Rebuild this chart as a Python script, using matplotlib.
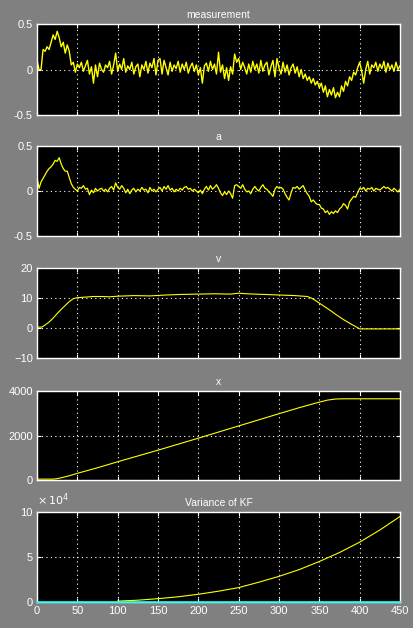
import numpy as np
import matplotlib
matplotlib.use('Agg')
import matplotlib.pyplot as plt

# 采样点 (0 ~ 450, 步长 2.5)
t = np.arange(0, 450.01, 2.5)

measurement = [
    0.10, 0.00, 0.00, 0.22, 0.20, 0.25, 0.22, 0.30, 0.38, 0.33,
    0.42, 0.35, 0.25, 0.30, 0.18, 0.27, 0.20, 0.05, 0.08, -0.03,
    0.06, 0.02, 0.08, -0.02, 0.04, 0.10, -0.05, 0.03, -0.15, 0.05,
    -0.08, 0.07, 0.00, -0.03, 0.05, 0.02, 0.09, -0.05, 0.05, 0.18,
    -0.02, 0.06, 0.00, 0.12, -0.03, 0.04, 0.00, 0.08, -0.05, 0.03,
    0.06, -0.08, 0.05, 0.00, 0.09, -0.04, 0.07, 0.02, 0.12, -0.06,
    0.10, 0.12, -0.05, 0.10, 0.02, -0.06, 0.08, -0.02, 0.05, 0.01,
    0.09, -0.03, 0.06, 0.00, 0.08, -0.04, 0.03, 0.07, -0.02, 0.05,
    -0.06, 0.02, -0.15, 0.04, 0.07, -0.02, 0.09, 0.00, 0.06, -0.05,
    0.19, -0.03, 0.05, -0.10, 0.02, -0.12, 0.03, -0.05, 0.17, 0.08,
    0.12, 0.00, 0.08, 0.02, -0.05, 0.06, -0.03, 0.09, 0.00, 0.06,
    -0.04, 0.10, -0.02, 0.05, 0.08, -0.06, 0.03, 0.10, -0.08, 0.12,
    0.02, -0.05, 0.08, -0.03, 0.05, -0.06, 0.02, 0.06, -0.04, 0.03,
    -0.08, 0.00, -0.10, -0.05, -0.12, -0.08, -0.15, -0.10, -0.17, -0.13,
    -0.20, -0.15, -0.25, -0.18, -0.30, -0.22, -0.28, -0.20, -0.31, -0.25,
    -0.30, -0.18, -0.24, -0.13, -0.18, -0.08, -0.12, -0.03, -0.06, 0.02,
    0.08, -0.02, -0.15, 0.00, 0.09, -0.05, 0.05, 0.02, 0.08, -0.02,
    0.06, 0.01, 0.09, -0.03, 0.07, 0.00, 0.05, -0.02, 0.08, 0.00,
    0.04,
]

# 加速度估计 a
accel = [
    0.15, 0.03, 0.10, 0.14, 0.18, 0.22, 0.25, 0.27, 0.30, 0.34,
    0.33, 0.37, 0.30, 0.25, 0.22, 0.22, 0.15, 0.08, 0.04, 0.02,
    0.00, 0.04, 0.03, 0.06, 0.02, 0.03, -0.04, 0.01, -0.02, 0.03,
    0.00, 0.02, 0.03, 0.00, 0.02, -0.01, 0.03, 0.05, 0.01, 0.09,
    0.04, 0.02, 0.06, 0.03, -0.02, 0.02, -0.03, 0.01, 0.03, -0.01,
    0.02, 0.00, 0.04, 0.01, 0.02, -0.02, 0.04, 0.00, 0.02, -0.01,
    0.02, 0.04, 0.00, 0.05, 0.02, 0.06, 0.01, 0.03, -0.01, 0.02,
    0.00, 0.03, 0.01, 0.04, 0.05, 0.02, 0.03, 0.00, 0.02, 0.00,
    -0.02, 0.01, -0.03, 0.02, 0.05, 0.01, 0.06, 0.02, 0.04, 0.07,
    0.03, -0.02, -0.05, -0.01, -0.04, 0.00, -0.03, -0.08, 0.06, 0.07,
    0.05, 0.03, 0.07, 0.02, -0.01, 0.00, -0.03, 0.02, 0.05, 0.02,
    0.00, 0.04, 0.07, 0.03, 0.02, -0.01, -0.03, -0.06, 0.02, 0.05,
    0.03, 0.04, 0.02, -0.03, -0.07, -0.10, -0.02, 0.04, 0.03, 0.05,
    0.02, 0.04, 0.06, 0.01, -0.03, -0.06, -0.12, -0.10, -0.13, -0.15,
    -0.15, -0.19, -0.20, -0.24, -0.22, -0.26, -0.23, -0.25, -0.22, -0.24,
    -0.20, -0.18, -0.14, -0.16, -0.20, -0.12, -0.09, -0.06, -0.07, -0.02,
    0.03, 0.02, 0.04, 0.00, 0.03, 0.02, 0.04, 0.00, 0.03, 0.02,
    0.01, 0.03, 0.05, 0.03, 0.04, 0.02, 0.00, 0.03, 0.01, -0.01,
    0.02,
]

# 速度 v
v_t = [0, 6, 10, 15, 20, 25, 30, 35, 40, 45, 50, 60, 70, 80, 90, 100,
       120, 140, 160, 180, 200, 220, 240, 250, 260, 280, 300, 320, 330,
       335, 340, 345, 350, 355, 360, 365, 370, 375, 380, 385, 390, 395,
       400, 420, 440, 450]
v = [0.3, 0.3, 1.0, 2.0, 3.3, 4.8, 6.2, 7.5, 8.8, 9.8, 10.1, 10.3, 10.5,
     10.5, 10.4, 10.6, 10.8, 10.7, 11.0, 11.2, 11.3, 11.4, 11.3, 11.6,
     11.4, 11.2, 11.0, 10.8, 10.6, 10.5, 10.0, 9.2, 8.3, 7.4, 6.5, 5.6,
     4.6, 3.7, 2.8, 2.0, 1.2, 0.5, -0.3, -0.3, -0.3, -0.3]

# 位置 x
pos_t = [0, 20, 25, 30, 40, 50, 75, 100, 150, 200, 250, 300, 325, 350,
         360, 370, 380, 450]
pos = [40, 40, 60, 100, 190, 300, 550, 820, 1340, 1880, 2430, 2980, 3250,
       3500, 3590, 3640, 3650, 3650]

# KF 方差 (单位 1e4)
var_t = [100, 125, 150, 175, 200, 225, 250, 275, 300, 325, 350, 375, 400,
         425, 450]
var = [0.1, 0.2, 0.37, 0.58, 0.86, 1.2, 1.6, 2.2, 2.85, 3.6, 4.5, 5.5,
       6.65, 8.0, 9.5]
var2_t = [0, 450]
var2 = [0, 0]

plt.rcParams['font.family'] = ['Liberation Sans', 'DejaVu Sans']

fig = plt.figure(figsize=(4.14, 6.28), dpi=100, facecolor='#808080')

left, width = 37 / 414, 363 / 414
boxes = [(24, 115), (146, 236), (268, 358), (391, 480), (512, 602)]
axes = []
for top, bot in boxes:
    ax = fig.add_axes([left, 1 - bot / 628, width, (bot - top) / 628])
    ax.set_facecolor('black')
    for s in ax.spines.values():
        s.set_color('white')
        s.set_linewidth(1.0)
    ax.tick_params(colors='white', direction='in', length=3, labelsize=8,
                   top=True, right=True, pad=3)
    ax.grid(True, color='white', linestyle=(0, (1, 3)), linewidth=0.8)
    ax.set_xlim(0, 450)
    ax.set_xticks(range(0, 451, 50))
    axes.append(ax)

yc = '#ffff00'
lw = 0.8
tfs = 7.5

ax = axes[0]
ax.plot(t, measurement, color=yc, lw=1.0)
ax.set_ylim(-0.5, 0.5)
ax.set_yticks([-0.5, 0, 0.5])
ax.set_yticklabels(['-0.5', '0', '0.5'])
ax.set_title('measurement', color='white', fontsize=tfs, pad=4)

ax = axes[1]
ax.plot(t, accel, color=yc, lw=0.9)
ax.set_ylim(-0.5, 0.5)
ax.set_yticks([-0.5, 0, 0.5])
ax.set_yticklabels(['-0.5', '0', '0.5'])
ax.set_title('a', color='white', fontsize=tfs, pad=4)

ax = axes[2]
ax.plot(v_t, v, color=yc, lw=lw)
ax.set_ylim(-10, 20)
ax.set_yticks([-10, 0, 10, 20])
ax.set_title('v', color='white', fontsize=tfs, pad=4)

ax = axes[3]
ax.plot(pos_t, pos, color=yc, lw=lw)
ax.set_ylim(0, 4000)
ax.set_yticks([0, 2000, 4000])
ax.set_title('x', color='white', fontsize=tfs, pad=4)

ax = axes[4]
ax.plot(var_t, var, color=yc, lw=lw)
ax.plot(var2_t, var2, color='#00ffff', lw=1.2, clip_on=False, zorder=5)
ax.set_ylim(0, 10)
ax.set_yticks([0, 5, 10])
ax.set_title('Variance of KF', color='white', fontsize=tfs, pad=4)
fig.text(37 / 414, 1 - 500 / 628, r'$\times\,10^{4}$', color='white',
         fontsize=8, ha='left', va='center')

for ax in axes[:4]:
    ax.set_xticklabels([])

fig.savefig('out.png', dpi=100, facecolor=fig.get_facecolor())
